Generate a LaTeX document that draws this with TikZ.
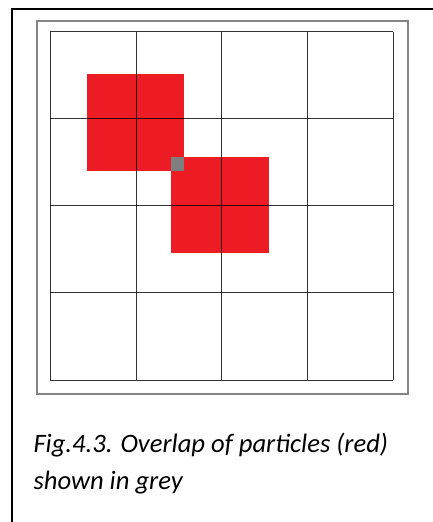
\documentclass[tikz,border=0pt]{standalone}
\usepackage{fontspec}
\setmainfont{Carlito}
\definecolor{partred}{HTML}{ED1C24}
\definecolor{overlapgrey}{HTML}{7F7F7F}
\definecolor{framegrey}{HTML}{858585}
\tikzset{
  gridline/.style={draw=black, line width=1pt, draw opacity=0.8},
  particle/.style={fill=partred},
  caption/.style={font=\fontsize{26.6}{37}\selectfont\itshape, inner sep=0pt, anchor=base west, align=left}
}
\begin{document}
\begin{tikzpicture}[x=1pt,y=-1pt]
\useasboundingbox[fill=white] (0,0) rectangle (433,522);
% outer partial frame
\draw[line width=1.4pt] (12,522) -- (12,9) -- (433,9);
% grey frame
\draw[framegrey, line width=2pt] (37.3,20.7) rectangle (408.3,394.3);
% particles
\fill[particle] (86.7,74.3) rectangle (184.3,171);
\fill[particle] (171.3,156.7) rectangle (269,253);
\fill[overlapgrey] (171.3,156.7) rectangle (184.3,171);
% grid
\foreach \i in {0,1,2,3,4} {
  \draw[gridline] ({50.3+85.75*\i},31.7) -- ({50.3+85.75*\i},380);
  \draw[gridline] (50.3,{31.7+87.075*\i}) -- (393.3,{31.7+87.075*\i});
}
% caption
\node[caption] (cap1) at (33.3,452.3) {Fig.4.3. Overlap of particles (red)};
\node[caption] (cap2) at (33.3,489) {shown in grey};
\end{tikzpicture}
\end{document}
